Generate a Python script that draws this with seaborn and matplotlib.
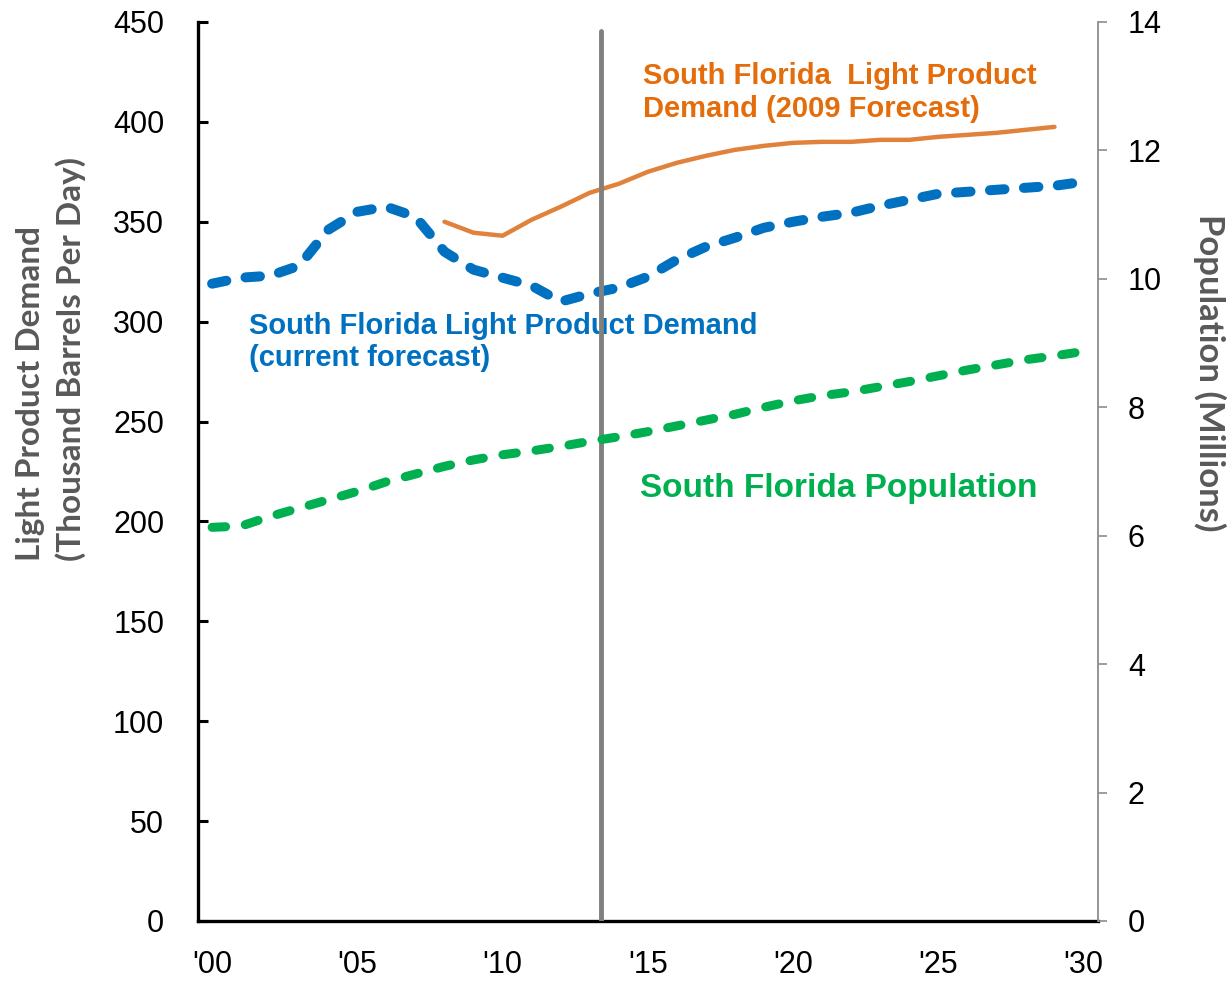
import numpy as np
import matplotlib
matplotlib.use("Agg")
import matplotlib.pyplot as plt
import seaborn as sns
from matplotlib.ticker import FixedLocator

# data
years = list(range(2000, 2031))
current_demand = [319, 322, 323, 328, 346, 355, 357.5, 352.5, 335, 326, 322,
                  318, 310, 314, 317, 322.5, 331, 337.5, 342, 347, 350, 352.5,
                  354.5, 358, 361, 364, 365, 366, 367, 368, 370]
years_2009 = list(range(2008, 2030))
demand_2009 = [350, 344.5, 343, 351, 357.5, 364.5, 369, 375, 379.5, 383, 386,
               388, 389.5, 390, 390, 391, 391, 392.5, 393.5, 394.5, 396, 397.5]
population = [6.13, 6.15, 6.30, 6.43, 6.56, 6.69, 6.84, 6.96, 7.08, 7.18, 7.26,
              7.32, 7.39, 7.47, 7.54, 7.62, 7.71, 7.80, 7.89, 8.00, 8.10, 8.18,
              8.24, 8.32, 8.40, 8.49, 8.58, 8.66, 8.74, 8.80, 8.87]
year_labels = ["'00", "'05", "'10", "'15", "'20", "'25", "'30"]
divider_year = 2013.4

BLUE = "#0070C0"
ORANGE_LINE = "#E0823C"
ORANGE_TEXT = "#E46C0A"
GREEN = "#00B050"
GRAY_LABEL = "#595959"

sns.set_style("white")
plt.rcParams['font.family'] = ['Liberation Sans', 'DejaVu Sans']

fig = plt.figure(figsize=(12.31, 9.81), dpi=100)
ax = fig.add_axes([0.1605, 0.0612, 0.7315, 0.9164])
ax2 = ax.twinx()

# demand lines
sns.lineplot(x=years, y=current_demand, ax=ax, color=BLUE, linewidth=7.2)
ln = ax.lines[-1]
ln.set_dashes((1.45, 1.95))
ln.set_dash_capstyle('round')

sns.lineplot(x=years_2009, y=demand_2009, ax=ax, color=ORANGE_LINE, linewidth=3.2)

sns.lineplot(x=years, y=population, ax=ax2, color=GREEN, linewidth=6.5)
ln = ax2.lines[-1]
ln.set_dashes((1.5, 2.2))
ln.set_dash_capstyle('round')

ax.axvline(divider_year, ymin=0, ymax=0.99, color="#808080", linewidth=3.5, zorder=5)

# axes
ax.set_xlim(1999.5, 2030.5)
ax.set_ylim(0, 450)
ax2.set_ylim(0, 14)
ax.set_xlabel("")
ax.set_ylabel("")
ax2.set_ylabel("")

ax.xaxis.set_major_locator(FixedLocator(years[::5]))
ax.set_xticklabels(year_labels)
ax.xaxis.set_minor_locator(FixedLocator([y + 0.5 for y in years]))
ax.tick_params(axis='x', which='major', length=0, labelsize=22, pad=21,
               labelcolor='black')
ax.tick_params(axis='x', which='minor', direction='in', length=6.5, width=2, color='black')

ax.set_yticks(np.arange(0, 451, 50))
ax.tick_params(axis='y', direction='in', length=7.5, width=2.2, color='black',
               labelsize=22, pad=24, left=True, labelcolor='black')
ax2.set_yticks(np.arange(0, 15, 2))
ax2.tick_params(axis='y', direction='out', length=6.5, width=1.2, color='#8C8C8C',
                labelsize=22, pad=15, right=True, labelcolor='black')

for a in (ax, ax2):
    a.spines['top'].set_visible(False)
ax.spines['right'].set_visible(False)
ax2.spines['left'].set_visible(False)
ax2.spines['bottom'].set_visible(False)
ax.spines['left'].set_linewidth(2.4)
ax.spines['left'].set_color('black')
ax.spines['bottom'].set_linewidth(2.4)
ax.spines['bottom'].set_color('black')
ax2.spines['right'].set_linewidth(1.3)
ax2.spines['right'].set_color('#8C8C8C')

# axis titles
ax.text(-0.163, 0.40, "Light Product Demand\n(Thousand Barrels Per Day)",
        transform=ax.transAxes, rotation=90, ha='center', va='bottom',
        multialignment='left', fontsize=24, fontweight='bold', color=GRAY_LABEL,
        family=['Lato', 'DejaVu Sans'], linespacing=1.38)
ax.text(1.124, 0.61, "Population (Millions)", transform=ax.transAxes,
        rotation=-90, ha='center', va='center', fontsize=25, fontweight='bold',
        color=GRAY_LABEL, family=['Lato', 'DejaVu Sans'])

# series annotations
ax.text(2014.84, 430, "South Florida  Light Product\nDemand (2009 Forecast)",
        ha='left', va='top', fontsize=21, fontweight='bold', color=ORANGE_TEXT,
        linespacing=1.22)
ax.text(2001.27, 305, "South Florida Light Product Demand\n(current forecast)",
        ha='left', va='top', fontsize=21, fontweight='bold', color=BLUE,
        linespacing=1.22, zorder=2)
ax.text(2014.73, 216.7, "South Florida Population", ha='left', va='center',
        fontsize=24, fontweight='bold', color=GREEN)

fig.savefig("out.png", dpi=100)
